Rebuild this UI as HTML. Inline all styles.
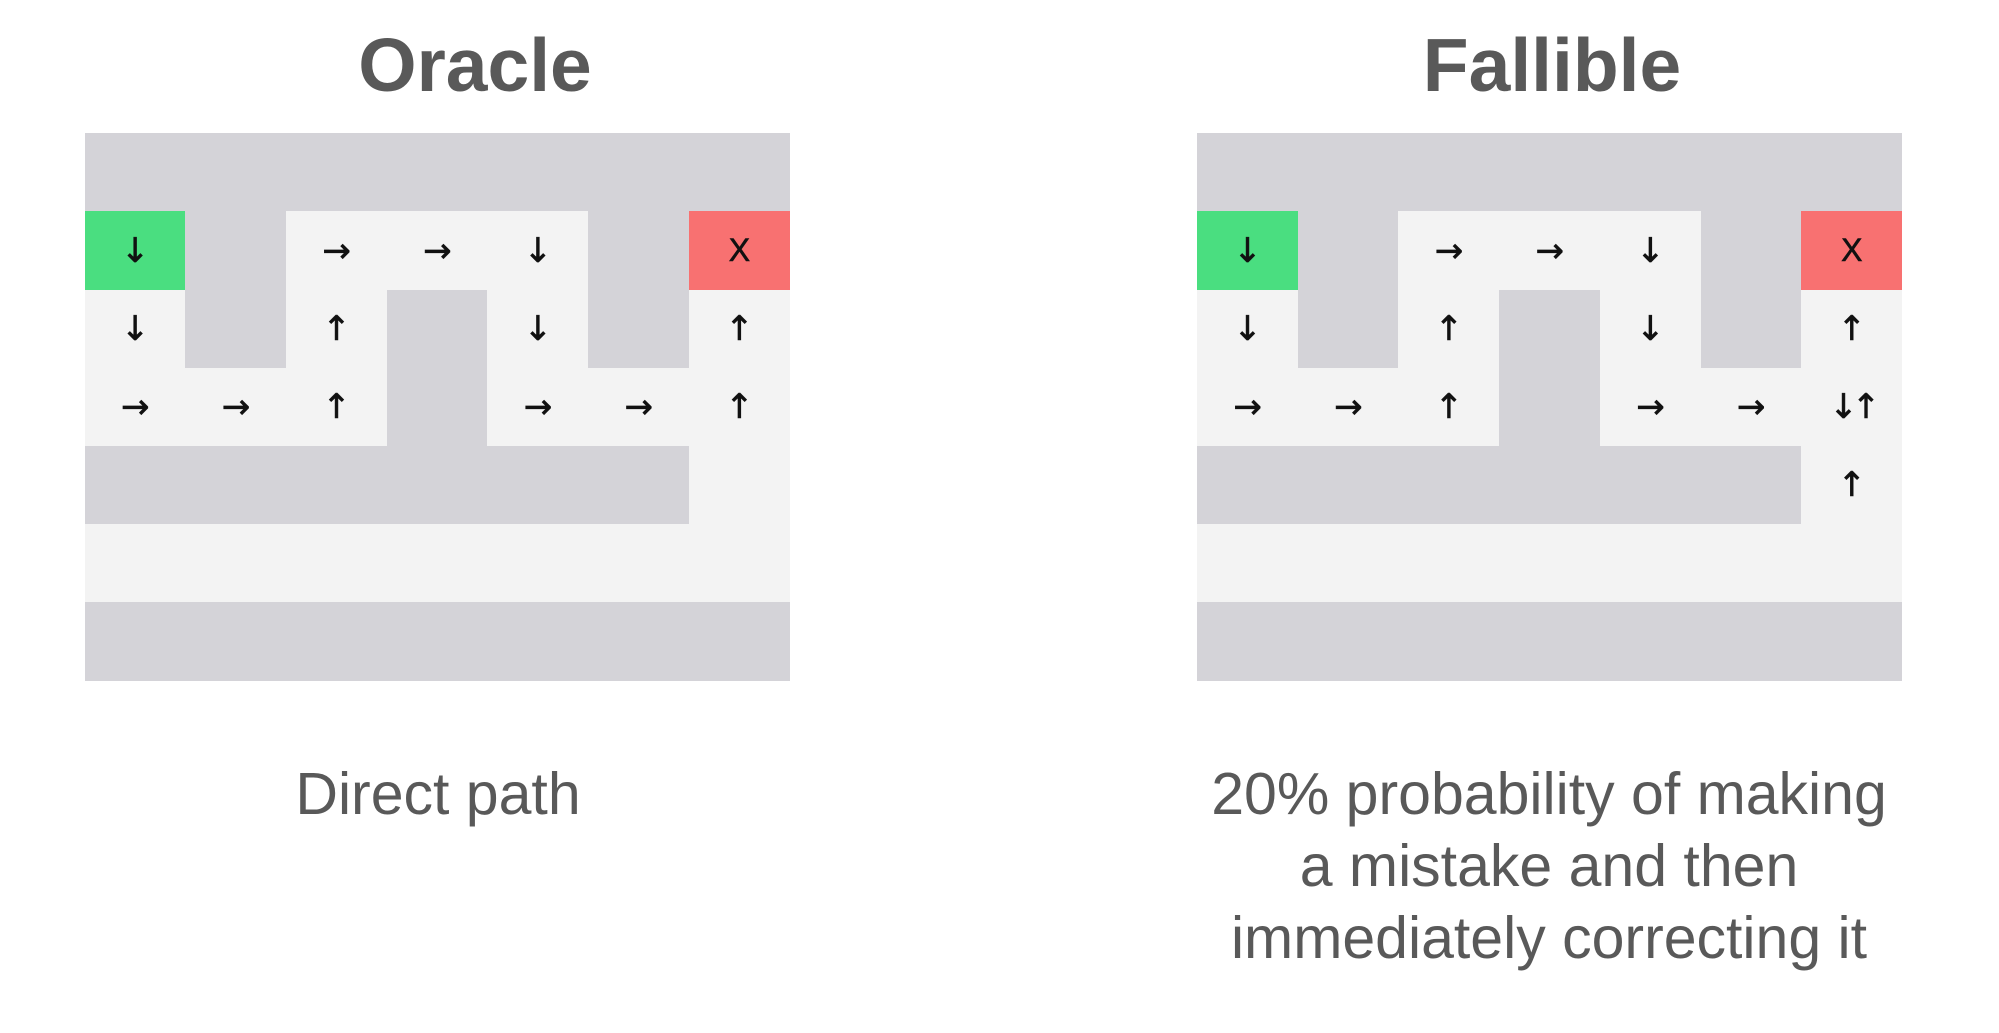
<!DOCTYPE html>
<html><head><meta charset="utf-8"><style>
body{margin:0;width:1999px;height:1033px;background:#fff;position:relative;overflow:hidden;font-family:"Liberation Sans","DejaVu Sans",sans-serif;color:#595959}
.t{position:absolute;text-align:center;font-weight:bold;font-size:75px;width:600px}
.c{position:absolute;text-align:center;font-size:59px;width:900px;line-height:72px}
.cell{position:absolute;display:flex;align-items:center;justify-content:center;font-family:"DejaVu Sans",sans-serif;font-size:34px;color:#111;-webkit-text-stroke:0.6px #111}
</style></head><body>
<div class="t" style="left:175px;top:22px">Oracle</div>
<div class="t" style="left:1252px;top:22px">Fallible</div>
<div class="c" style="left:-12px;top:758px">Direct path</div>
<div class="c" style="left:1099px;top:758px">20% probability of making<br>a mistake and then<br>immediately correcting it</div>
<div id="mazes"></div>
<script>
const layout=["WWWWWWW","GWFFFWR","FWFWFWF","FFFWFFF","WWWWWWF","FFFFFFF","WWWWWWW"];
const oracleArrows=[["","","","","","",""],["↓","","→","→","↓","","X"],["↓","","↑","","↓","","↑"],["→","→","↑","","→","→","↑"],["","","","","","",""],["","","","","","",""],["","","","","","",""]];
const fallibleArrows=[["","","","","","",""],["↓","","→","→","↓","","X"],["↓","","↑","","↓","","↑"],["→","→","↑","","→","→","↓↑"],["","","","","","","↑"],["","","","","","",""],["","","","","","",""]];
const colors={W:"#d4d3d8",F:"#f3f3f3",G:"#4ade80",R:"#f87171"};
const cw=100.7,ch=78.15,top0=133.3;
function draw(x0,arrows,name){
  const root=document.getElementById('mazes');
  for(let r=0;r<7;r++)for(let c=0;c<7;c++){
    const d=document.createElement('div');
    d.className='cell';
    
    
    d.style.left=(x0+c*cw)+'px';d.style.top=(top0+r*ch)+'px';
    d.style.width=(cw+0.6)+'px';d.style.height=(ch+0.6)+'px';
    d.style.background=colors[layout[r][c]];
    d.textContent=arrows[r][c];
    if(arrows[r][c]==='X'){d.style.fontFamily='"Liberation Sans",sans-serif';d.style.fontSize='32px';}
    if(arrows[r][c].length>1)d.style.letterSpacing='-6px';
    root.appendChild(d);
  }
}
draw(84.6,oracleArrows,'oracle');
draw(1197,fallibleArrows,'fallible');
</script>
</body></html>
